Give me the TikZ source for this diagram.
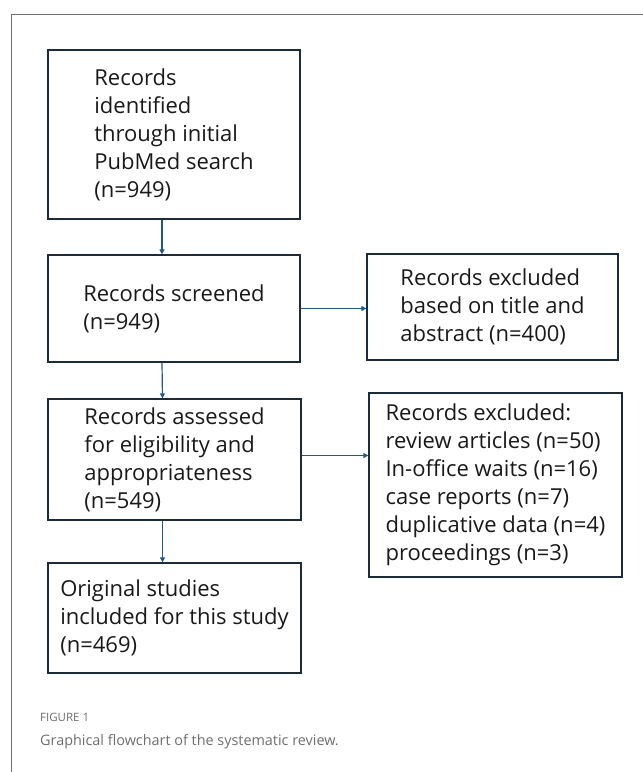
\documentclass[tikz,border=0pt]{standalone}
\usepackage{fontspec}
\setmainfont{Open Sans}
\usetikzlibrary{arrows.meta}
\definecolor{boxline}{HTML}{1C2B38}
\definecolor{arrowblue}{HTML}{1F5A87}
\definecolor{framegray}{HTML}{707070}
\definecolor{captiongray}{HTML}{6E6E6E}
\begin{document}
\begin{tikzpicture}[
	x=1pt, y=-1pt,
	stage/.style={
		rectangle,
		draw=boxline,
		line width=1.3pt,
		align=left,
		text=black!90,
		font=\fontsize{22}{28}\selectfont,
		inner sep=0pt
	},
	link/.style={
		draw=arrowblue,
		line width=1.2pt,
		-{Triangle[length=5pt,width=5pt]}
	},
]
\useasboundingbox (0,0) rectangle (643,772);

% outer frame, open to the right and below
\draw[framegray, line width=0.8pt] (643,14) -- (11,14) -- (11,772);

\node[stage, minimum width=252pt, minimum height=169pt] (ident) at (174,134.5)
{Records\\identified\\through initial\\PubMed search\\(n=949)};

\node[stage, minimum width=252pt, minimum height=107pt] (screen) at (174,308.5)
{Records screened\\(n=949)};

\node[stage, minimum width=251pt, minimum height=106pt] (excltitle) at (492.5,307)
{Records excluded\\based on title and\\abstract (n=400)};

\node[stage, minimum width=253pt, minimum height=121pt] (assess) at (174.5,459.5)
{Records assessed\\for eligibility and\\appropriateness\\(n=549)};

\node[stage, minimum width=253pt, minimum height=184pt] (exclreason) at (495.5,485)
{Records excluded:\\review articles (n=50)\\In-office waits (n=16)\\case reports (n=7)\\duplicative data (n=4)\\proceedings (n=3)};

\node[stage, minimum width=253pt, minimum height=110pt] (included) at (174.5,618)
{Original studies\\included for this study\\(n=469)};

\draw[link] ([xshift=-12pt]ident.south) -- ([xshift=-12pt]screen.north);
\draw[link] ([xshift=-12pt]screen.south) -- ([xshift=-12pt]assess.north);
\draw[link] ([xshift=-12pt]assess.south) -- ([xshift=-12pt]included.north);
\draw[link] (screen.east) -- (screen.east -| excltitle.west);
\draw[link] ([yshift=4pt]assess.east) -- ([yshift=4pt]assess.east -| exclreason.west);

% caption
\node[anchor=west, inner sep=0pt, text=captiongray, font=\fontsize{11.5}{13}\selectfont] (figlabel) at (40,717) {FIGURE 1};
\node[anchor=west, inner sep=0pt, text=captiongray, font=\fontsize{14.4}{16}\selectfont] (figcaption) at (40,742) {Graphical flowchart of the systematic review.};

\end{tikzpicture}
\end{document}
